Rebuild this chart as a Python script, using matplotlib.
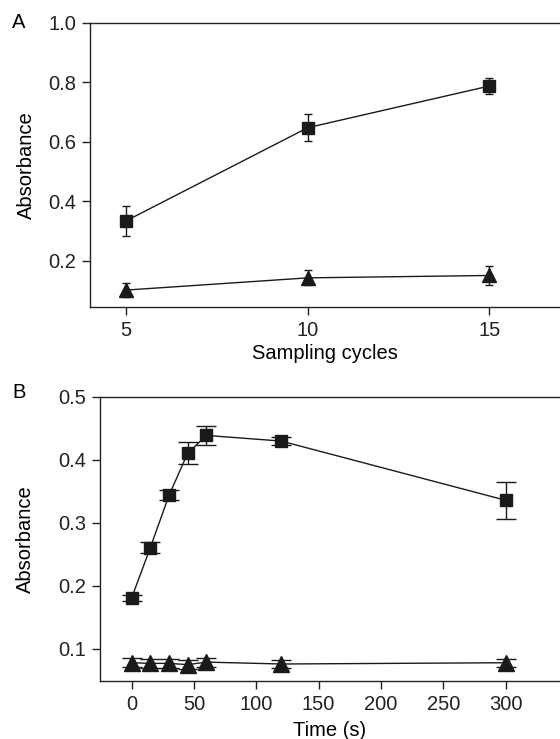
import matplotlib
matplotlib.use("Agg")
import matplotlib.pyplot as plt

plt.rcParams['font.family'] = ['Liberation Sans', 'DejaVu Sans']

# Panel A data
cycles = [5, 10, 15]
sq_a = [0.335, 0.648, 0.788]
sq_a_err = [0.050, 0.046, 0.028]
tri_a = [0.102, 0.143, 0.151]
tri_a_err = [0.025, 0.025, 0.033]

# Panel B data
time_s = [0, 15, 30, 45, 60, 120, 300]
sq_b = [0.181, 0.261, 0.344, 0.411, 0.439, 0.430, 0.336]
sq_b_err = [0.005, 0.008, 0.008, 0.018, 0.015, 0.006, 0.029]
tri_b = [0.078, 0.077, 0.077, 0.075, 0.079, 0.076, 0.078]
tri_b_err = [0.007, 0.007, 0.007, 0.007, 0.007, 0.006, 0.006]

W, H = 560, 739
fig = plt.figure(figsize=(W/100, H/100), dpi=100)

def ax_rect(l, t, r, b):
    return [l/W, 1 - b/H, (r - l)/W, (b - t)/H]

col = '#1a1a1a'
fs = 14.5

def style(ax):
    ax.spines['right'].set_visible(False)
    for s in ['left', 'bottom', 'top']:
        ax.spines[s].set_color('#222222')
        ax.spines[s].set_linewidth(1.0)
    ax.tick_params(direction='out', length=6, width=1, pad=4, labelsize=fs,
                   colors='#222222')

# Panel A
axA = fig.add_axes(ax_rect(90, 23, 560, 307))
axA.errorbar(cycles, sq_a, yerr=sq_a_err, fmt='-s', color=col, ms=9, lw=1,
             elinewidth=1, capsize=3, capthick=1)
axA.errorbar(cycles, tri_a, yerr=tri_a_err, fmt='-^', color=col, ms=10, lw=1,
             elinewidth=1, capsize=3, capthick=1)
axA.set_xlim(4, 16.95)
axA.set_ylim(0.045, 1.0)
axA.set_xticks([5, 10, 15])
axA.set_yticks([0.2, 0.4, 0.6, 0.8, 1.0])
axA.set_yticklabels(['0.2', '0.4', '0.6', '0.8', '1.0'])
axA.set_xlabel('Sampling cycles', fontsize=fs, labelpad=3)
axA.set_ylabel('Absorbance', fontsize=fs, labelpad=9)
style(axA)
fig.text(12/W, 1 - 23/H, 'A', fontsize=fs, va='center', ha='left')

# Panel B
axB = fig.add_axes(ax_rect(100, 397, 560, 681))
axB.errorbar(time_s, sq_b, yerr=sq_b_err, fmt='-s', color=col, ms=9, lw=1,
             elinewidth=1, capsize=7, capthick=1)
axB.errorbar(time_s, tri_b, yerr=tri_b_err, fmt='-^', color=col, ms=11, lw=1,
             elinewidth=1, capsize=7, capthick=1)
axB.set_xlim(-25.4, 343.6)
axB.set_ylim(0.049, 0.5)
axB.set_xticks([0, 50, 100, 150, 200, 250, 300])
axB.set_yticks([0.1, 0.2, 0.3, 0.4, 0.5])
axB.set_xlabel('Time (s)', fontsize=fs, labelpad=5)
axB.set_ylabel('Absorbance', fontsize=fs, labelpad=17)
style(axB)
fig.text(12/W, 1 - 393/H, 'B', fontsize=fs, va='center', ha='left')

fig.savefig('out.png', dpi=100)
